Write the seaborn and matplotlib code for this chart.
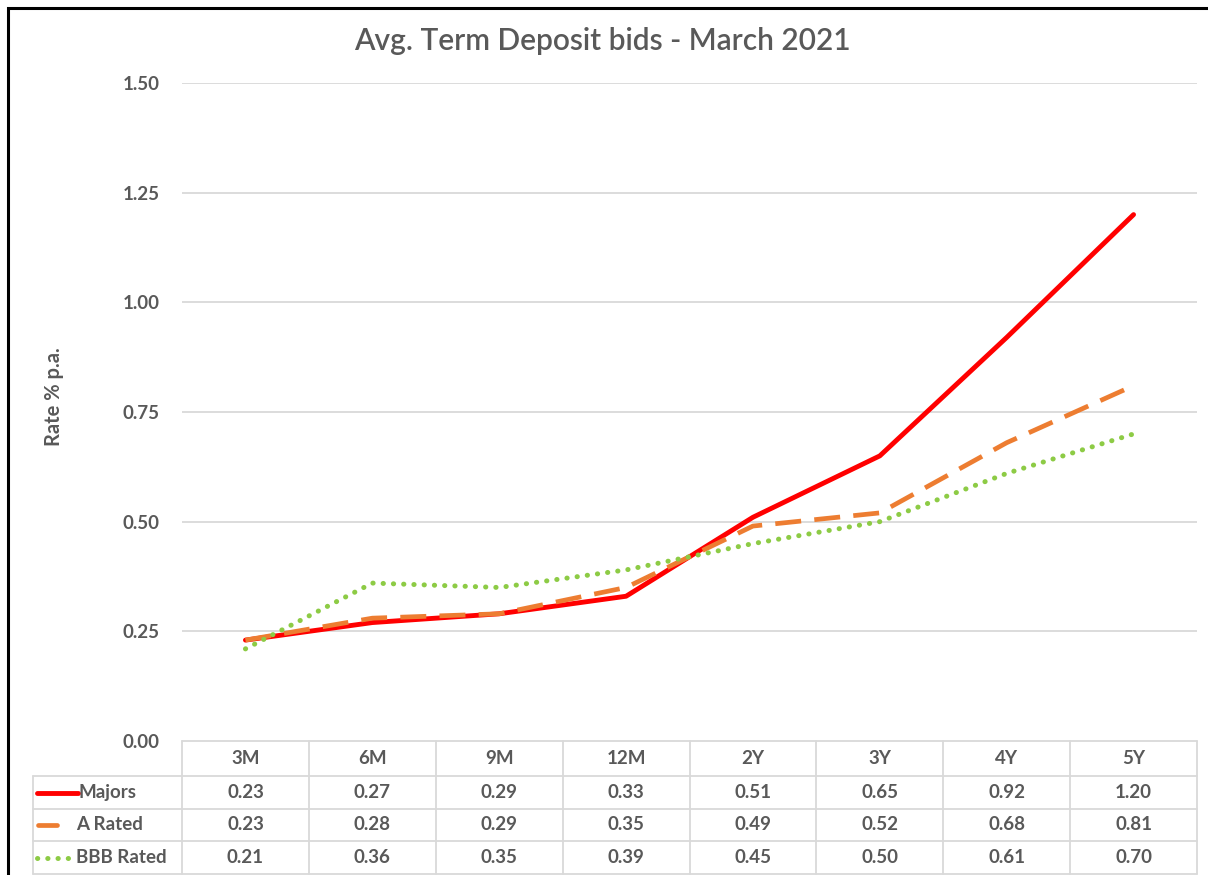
import numpy as np
import pandas as pd
import matplotlib
matplotlib.use('Agg')
import matplotlib.pyplot as plt
import seaborn as sns
from matplotlib.lines import Line2D
from matplotlib.patches import Rectangle
from matplotlib.transforms import blended_transform_factory

tenors = ['3M', '6M', '9M', '12M', '2Y', '3Y', '4Y', '5Y']
majors = [0.23, 0.27, 0.29, 0.33, 0.51, 0.65, 0.92, 1.20]
a_rated = [0.23, 0.28, 0.29, 0.35, 0.49, 0.52, 0.68, 0.81]
bbb_rated = [0.21, 0.36, 0.35, 0.39, 0.45, 0.50, 0.61, 0.70]
series_names = ['Majors', 'A Rated', 'BBB Rated']

sns.set_theme(style='white')
plt.rcParams['font.family'] = ['Lato', 'DejaVu Sans']

txt = '#595959'
grid_c = '#D9D9D9'
styles = {
    'Majors': dict(color='#FF0000', lw=3.5, ls='-', z=3),
    'A Rated': dict(color='#ED7D31', lw=3.4, ls=(0, (5.5, 2.8)), z=4),
    'BBB Rated': dict(color='#8DCB45', lw=3.6, ls=(0, (0.05, 2.0)), z=5),
}

df = pd.DataFrame({
    'tenor': tenors * 3,
    'pos': list(range(len(tenors))) * 3,
    'rate': majors + a_rated + bbb_rated,
    'series': sum([[s] * len(tenors) for s in series_names], []),
})

W, H = 1208, 875
fig = plt.figure(figsize=(12.08, 8.75), dpi=100)
fig.patch.set_facecolor('white')
ax = fig.add_axes([182 / W, 1 - 741 / H, (1197 - 182) / W, (741 - 83) / H])

for name in series_names:
    st = styles[name]
    sub = df[df['series'] == name]
    sns.lineplot(data=sub, x='pos', y='rate', ax=ax, color=st['color'],
                 linewidth=st['lw'], sort=False, zorder=st['z'])
    ln = ax.get_lines()[-1]
    ln.set_linestyle(st['ls'])
    ln.set_dash_capstyle('round' if name == 'BBB Rated' else 'butt')
    ln.set_solid_capstyle('round')

ax.set_xlim(-0.5, len(tenors) - 0.5)
ax.set_ylim(0, 1.5)
ax.set_yticks(np.arange(0, 1.51, 0.25))
ax.set_yticklabels([f'{v:.2f}' for v in np.arange(0, 1.51, 0.25)],
                   fontsize=13.5, fontweight='bold', color=txt)
ax.tick_params(axis='y', length=0, pad=16)
ax.set_xticks([])
ax.set_xlabel('')
ax.set_ylabel('')
for s in ax.spines.values():
    s.set_visible(False)
for v in np.arange(0.25, 1.51, 0.25):
    ax.axhline(v, color=grid_c, lw=1.3, zorder=0)

fig.text(54 / W, 1 - 397 / H, 'Rate % p.a.', rotation=90, ha='center', va='center',
         fontsize=14.5, fontweight='bold', color=txt)
fig.text(602 / W, 1 - 41 / H, 'Avg. Term Deposit bids - March 2021', ha='center',
         va='center', fontsize=21.5, fontweight='semibold', color=txt)

# data table below the axes
tr = blended_transform_factory(ax.transData, fig.transFigure)
row_y = [741, 776, 809, 841, 874]
n = len(tenors)
fy = lambda y: 1 - y / H
lkw = dict(color=grid_c, lw=1.3, clip_on=False)
fig.add_artist(Line2D([-0.5, n - 0.5], [fy(row_y[0])] * 2, transform=tr, **lkw))
for y in row_y[1:]:
    fig.add_artist(Line2D([33 / W, 1197 / W], [fy(y)] * 2, transform=fig.transFigure, **lkw))
for i in range(n + 1):
    fig.add_artist(Line2D([i - 0.5] * 2, [fy(741), fy(874)], transform=tr, **lkw))
fig.add_artist(Line2D([33 / W] * 2, [fy(776), fy(874)], transform=fig.transFigure, **lkw))

tkw = dict(ha='center', va='center', fontsize=13.5, fontweight='bold', color=txt)
for i, t in enumerate(tenors):
    fig.text(i, fy((row_y[0] + row_y[1]) / 2), t, transform=tr, **tkw)
for r, (name, vals) in enumerate(zip(series_names, [majors, a_rated, bbb_rated])):
    yc = fy((row_y[r + 1] + row_y[r + 2]) / 2)
    for i, v in enumerate(vals):
        fig.text(i, yc, f'{v:.2f}', transform=tr, **tkw)
    st = styles[name]
    if name == 'Majors':
        kx = [37, 78]
    elif name == 'A Rated':
        kx = [38, 57]
    else:
        kx = [37, 72]
    key = Line2D([kx[0] / W, kx[1] / W], [yc, yc], transform=fig.transFigure,
                 color=st['color'], lw=st['lw'], ls=st['ls'] if name == 'BBB Rated' else '-')
    key.set_dash_capstyle('round')
    fig.add_artist(key)
    fig.text(78 / W if name == 'Majors' else 76 / W, yc, name, ha='left', va='center',
             fontsize=13.5, fontweight='bold', color=txt)

# outer frame of the picture
fig.add_artist(Rectangle((8 / W, -0.05), 1.2, 1 - 8 / H + 0.05, transform=fig.transFigure,
                         fill=False, edgecolor='black', lw=2.2))

fig.savefig('out.png', dpi=100)
